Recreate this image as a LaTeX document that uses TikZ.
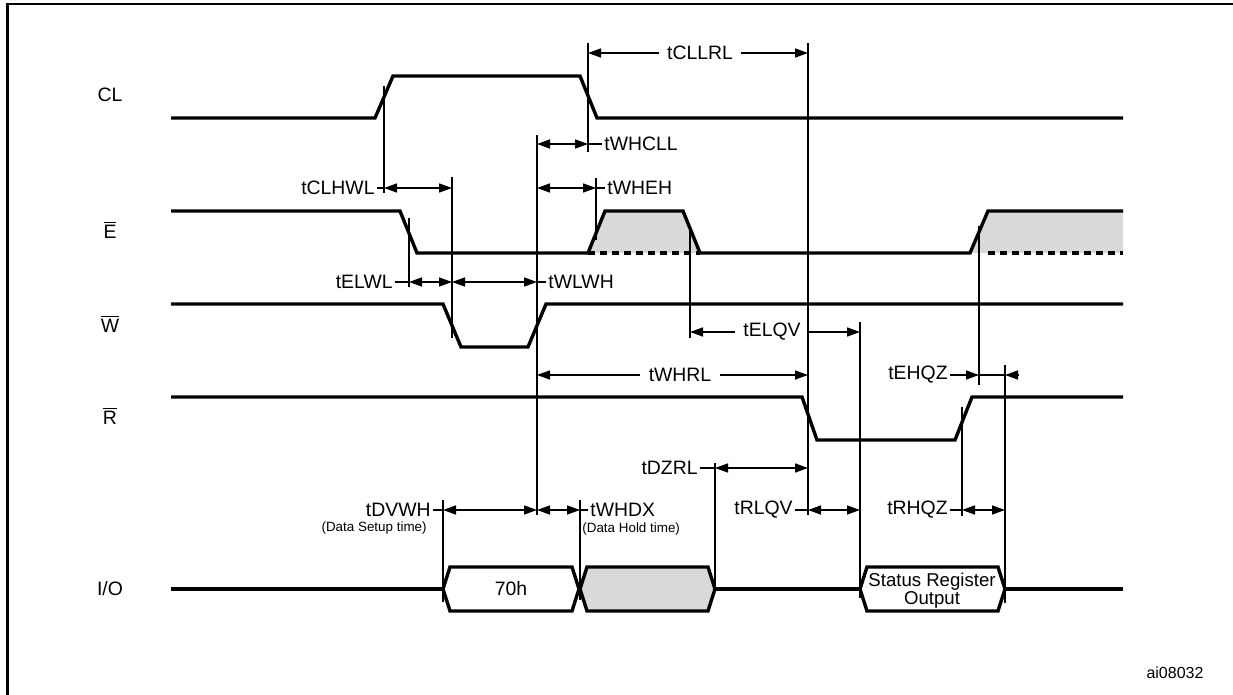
\documentclass[tikz,border=0pt]{standalone}
\usepackage{fontspec}
\setmainfont{Liberation Sans}
\usepackage{tikz}
\usetikzlibrary{arrows.meta, calc}

\definecolor{hizgray}{RGB}{217,217,219}
\newcommand{\ovl}[1]{$\overline{\mbox{#1}}$}

\begin{document}
\begin{tikzpicture}[x=0.5pt, y=-0.5pt, font=\fontsize{9.7}{11}\selectfont,
  >={Triangle[length=6.5pt, width=4.5pt]},
  sig/.style={line width=1.7pt, line join=miter},
  hizline/.style={line width=1.7pt, dash pattern=on 3.5pt off 2.5pt},
  guide/.style={line width=0.75pt},
  dimline/.style={line width=0.75pt, <->},
  lbl/.style={inner xsep=1pt, inner ysep=0pt},
  note/.style={inner sep=0pt, font=\fontsize{6.7}{8}\selectfont}]
  \useasboundingbox (0,0) rectangle (1233,695);
  \draw[line width=1.1pt] (7.5,695) -- (7.5,4) -- (1233,4);

  \foreach \nm/\txt/\y in {cl/CL/102, e/\ovl{E}/239, w/\ovl{W}/333, r/\ovl{R}/425, io/{I/O}/596}
     \node[anchor=base, inner sep=0pt] (\nm) at (110,\y) {\txt};

  \fill[hizgray] (588,253) -- (605,211) -- (683,211) -- (700,253) -- cycle;
  \fill[hizgray] (970,253) -- (988,211) -- (1123,211) -- (1123,253) -- cycle;
  \draw[sig] (171,118) -- (375,118) -- (393,76) -- (580,76) -- (597,118) -- (1123,118);
  \draw[sig] (171,211) -- (400,211) -- (417,253) -- (588,253) -- (605,211) -- (683,211)
     -- (700,253) -- (970,253) -- (988,211) -- (1123,211);
  \draw[hizline] (588,253) -- (700,253) (988,253) -- (1123,253);
  \draw[sig] (171,304) -- (443,304) -- (461,347) -- (528,347) -- (546,304) -- (1123,304);
  \draw[sig] (171,397) -- (802,397) -- (817,440) -- (955,440) -- (972,397) -- (1123,397);
  \draw[sig] (171,589) -- (443,589) (715,589) -- (860,589) (1005,589) -- (1123,589);
  \draw[sig] (443,589) -- (450,567) -- (572,567) -- (579,589) -- (572,611) -- (450,611) -- cycle;
  \draw[sig, fill=hizgray] (580,589) -- (587,567) -- (708,567) -- (715,589) -- (708,611) -- (587,611) -- cycle;
  \draw[sig] (860,589) -- (867,567) -- (998,567) -- (1005,589) -- (998,611) -- (867,611) -- cycle;
  \node (cmd) at (511,589) {70h};
  \node[align=center, inner sep=0pt, font=\fontsize{9.3}{9}\selectfont] (sro) at (932,591)
     {Status Register\\Output};

  \foreach \nm/\x/\ya/\yb in {clr/384/86/193, ef/409/218/287, wf/452/177/338,
      wr/537/135/515, clf/588/43/152, er/596/178/240, ef2/690/226/338, rf/808/43/515,
      qa/860/322/598, er2/979/226/385, qb/1005/365/603, rr/962/407/516,
      dz/715/463/589, da/443/500/602, db/580/500/600}
  {
     \coordinate (\nm) at (\x,\ya);
     \draw[guide] (\nm) -- (\x,\yb);
  }

  \foreach \nm/\txt/\xe/\y/\a/\b in {clhwl/tCLHWL/377/188/clr/wf, elwl/tELWL/395/282/ef/wf,
      dzrl/tDZRL/700/468/dz/rf, rlqv/tRLQV/795/510/rf/qa, rhqz/tRHQZ/950/510/rr/qb,
      dvwh/tDVWH/433/510/da/wr}
  {
     \node[lbl, anchor=east] (\nm) at (\xe,\y) {\txt};
     \draw[guide] (\nm.east) -- (\a |- \nm.east);
     \draw[dimline] (\a |- \nm.east) -- (\b |- \nm.east);
  }

  \foreach \nm/\txt/\xw/\y/\a/\b in {wlwh/tWLWH/546/282/wr/wf, whcll/tWHCLL/602/144/clf/wr,
      wheh/tWHEH/605/188/er/wr, whdx/tWHDX/588/510/db/wr}
  {
     \node[lbl, anchor=west] (\nm) at (\xw,\y) {\txt};
     \draw[guide] (\a |- \nm.west) -- (\nm.west);
     \draw[dimline] (\b |- \nm.west) -- (\a |- \nm.west);
  }

  \foreach \nm/\txt/\x/\y/\a/\b in {cllrl/tCLLRL/700/53/clf/rf, elqv/tELQV/772/332/ef2/qa,
      whrl/tWHRL/680/375/wr/rf}
  {
     \node[inner xsep=4pt, inner ysep=0pt] (\nm) at (\x,\y) {\txt};
     \draw[guide, ->] (\nm.west) -- (\a |- \nm.west);
     \draw[guide, ->] (\nm.east) -- (\b |- \nm.east);
  }

  \node[lbl, anchor=east] (ehqz) at (950,375) {tEHQZ};
  \coordinate (ehqzr) at (1019,375);
  \draw[guide, ->] (ehqz.east) -- (er2 |- ehqz.east);
  \draw[guide] (er2 |- ehqz.east) -- (qb |- ehqz.east);
  \draw[guide, ->] (ehqzr) -- (qb |- ehqzr);

  \node[note, anchor=east] (setup) at (427,528) {(Data Setup time)};
  \node[note, anchor=west] (hold) at (582,529) {(Data Hold time)};
  \node[font=\fontsize{8}{9}\selectfont] (fig) at (1175,673) {ai08032};
\end{tikzpicture}
\end{document}
